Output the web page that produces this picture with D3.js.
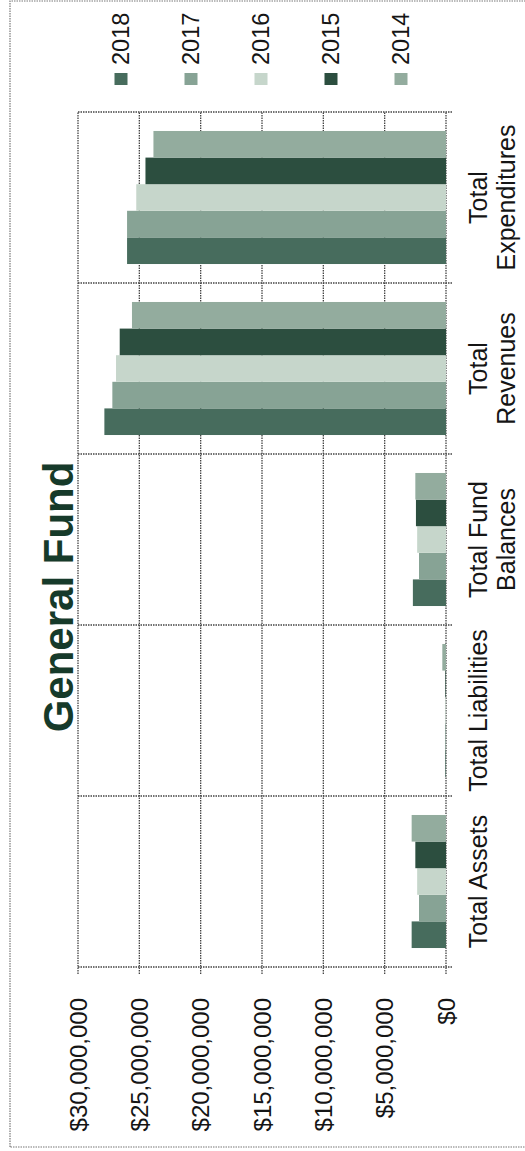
<!DOCTYPE html>
<html>
<head>
<meta charset="utf-8">
<script src="https://cdn.jsdelivr.net/npm/d3@7"></script>
<style>
  body { margin: 0; background: #fff; }
  svg { display: block; }
  text { font-family: "Liberation Sans", Arial, sans-serif; }
</style>
</head>
<body>
<svg id="chart"></svg>
<script>
// DATA
const categories = ["Total Assets", "Total Liabilities", "Total Fund Balances", "Total Revenues", "Total Expenditures"];
const categoryLines = [["Total Assets"], ["Total Liabilities"], ["Total Fund", "Balances"], ["Total", "Revenues"], ["Total", "Expenditures"]];
const years = ["2018", "2017", "2016", "2015", "2014"];
const values2018 = [2800000, 50000, 2700000, 27850000, 26000000];
const values2017 = [2200000, 50000, 2200000, 27200000, 26000000];
const values2016 = [2350000, 50000, 2350000, 26900000, 25250000];
const values2015 = [2500000, 50000, 2450000, 26600000, 24500000];
const values2014 = [2800000, 300000, 2500000, 25600000, 23850000];
const valueTicks = [0, 5000000, 10000000, 15000000, 20000000, 25000000, 30000000];
const yearColors = ["#476c5d", "#87a395", "#c6d6cb", "#2c4e3f", "#93ac9e"];

const seriesValues = { "2018": values2018, "2017": values2017, "2016": values2016, "2015": values2015, "2014": values2014 };

// the chart is drawn upright in a 1151 x 525 frame, then turned a quarter turn to the left
const pageWidth = 525;
const pageHeight = 1151;
const W = pageHeight;   // original width
const H = pageWidth;    // original height
const margin = { left: 184, right: W - 1039, top: 78, bottom: H - 446 };

const svg = d3.select("#chart")
  .attr("width", pageWidth)
  .attr("height", pageHeight);

const g = svg.append("g")
  .attr("transform", `translate(0,${pageHeight}) rotate(-90)`);

// outer dotted frame
g.append("rect")
  .attr("x", 4).attr("y", 10)
  .attr("width", W - 5).attr("height", H + 10)
  .attr("fill", "none")
  .attr("stroke", "#777")
  .attr("stroke-width", 1.2)
  .attr("stroke-dasharray", "1.5,1");

const x0 = d3.scaleBand()
  .domain(categories)
  .range([margin.left, W - margin.right])
  .paddingInner(0.222)
  .paddingOuter(0.111);

const x1 = d3.scaleBand()
  .domain(years)
  .range([0, x0.bandwidth()]);

const y = d3.scaleLinear()
  .domain([0, 30000000])
  .range([H - margin.bottom, margin.top]);

const color = d3.scaleOrdinal().domain(years).range(yearColors);

const gridStyle = sel => sel
  .attr("stroke", "#444")
  .attr("stroke-width", 1.3)
  .attr("stroke-dasharray", "1.5,1");

// value grid lines and ticks
g.append("g").selectAll("line")
  .data(valueTicks)
  .join("line")
  .attr("x1", margin.left - 7)
  .attr("x2", W - margin.right)
  .attr("y1", d => y(d))
  .attr("y2", d => y(d))
  .call(gridStyle);

// category separators
const step = x0.step();
const boundaries = d3.range(categories.length + 1).map(i => margin.left + i * step);
g.append("g").selectAll("line")
  .data(boundaries)
  .join("line")
  .attr("x1", d => d)
  .attr("x2", d => d)
  .attr("y1", margin.top)
  .attr("y2", H - margin.bottom + 7)
  .call(gridStyle);

// bars
const groups = g.append("g").selectAll("g")
  .data(categories)
  .join("g")
  .attr("transform", d => `translate(${x0(d)},0)`);

groups.selectAll("rect")
  .data((c, ci) => years.map(yr => ({ year: yr, value: seriesValues[yr][ci] })))
  .join("rect")
  .attr("x", d => x1(d.year))
  .attr("width", x1.bandwidth())
  .attr("y", d => y(d.value))
  .attr("height", d => y(0) - y(d.value))
  .attr("fill", d => color(d.year));

// tick labels
g.append("g").selectAll("text")
  .data(valueTicks)
  .join("text")
  .attr("x", margin.left - 31)
  .attr("y", d => y(d))
  .attr("dy", "0.36em")
  .attr("text-anchor", "end")
  .attr("font-size", 24)
  .attr("fill", "#151515")
  .text(d => d3.format("$,")(d));

// category labels
const labels = g.append("g").selectAll("text")
  .data(categories)
  .join("text")
  .attr("x", d => x0(d) + x0.bandwidth() / 2)
  .attr("y", H - margin.bottom + 41)
  .attr("text-anchor", "middle")
  .attr("font-size", 25)
  .attr("fill", "#151515");

labels.selectAll("tspan")
  .data((d, i) => categoryLines[i])
  .join("tspan")
  .attr("x", function() { return d3.select(this.parentNode).attr("x"); })
  .attr("dy", (d, i) => i === 0 ? 0 : 28)
  .text(d => d);

// title
g.append("text")
  .attr("x", 554)
  .attr("y", 73)
  .attr("text-anchor", "middle")
  .attr("font-size", 42)
  .attr("font-weight", "bold")
  .attr("fill", "#163a2a")
  .text("General Fund");

// legend
const legend = g.append("g").selectAll("g")
  .data(years)
  .join("g")
  .attr("transform", (d, i) => `translate(1066,${121 + i * 70})`);

legend.append("rect")
  .attr("x", 0).attr("y", -6.5)
  .attr("width", 12).attr("height", 13)
  .attr("fill", d => color(d));

legend.append("text")
  .attr("x", 20)
  .attr("y", 7.5)
  .attr("font-size", 23.5)
  .attr("fill", "#151515")
  .text(d => d);
</script>
</body>
</html>
